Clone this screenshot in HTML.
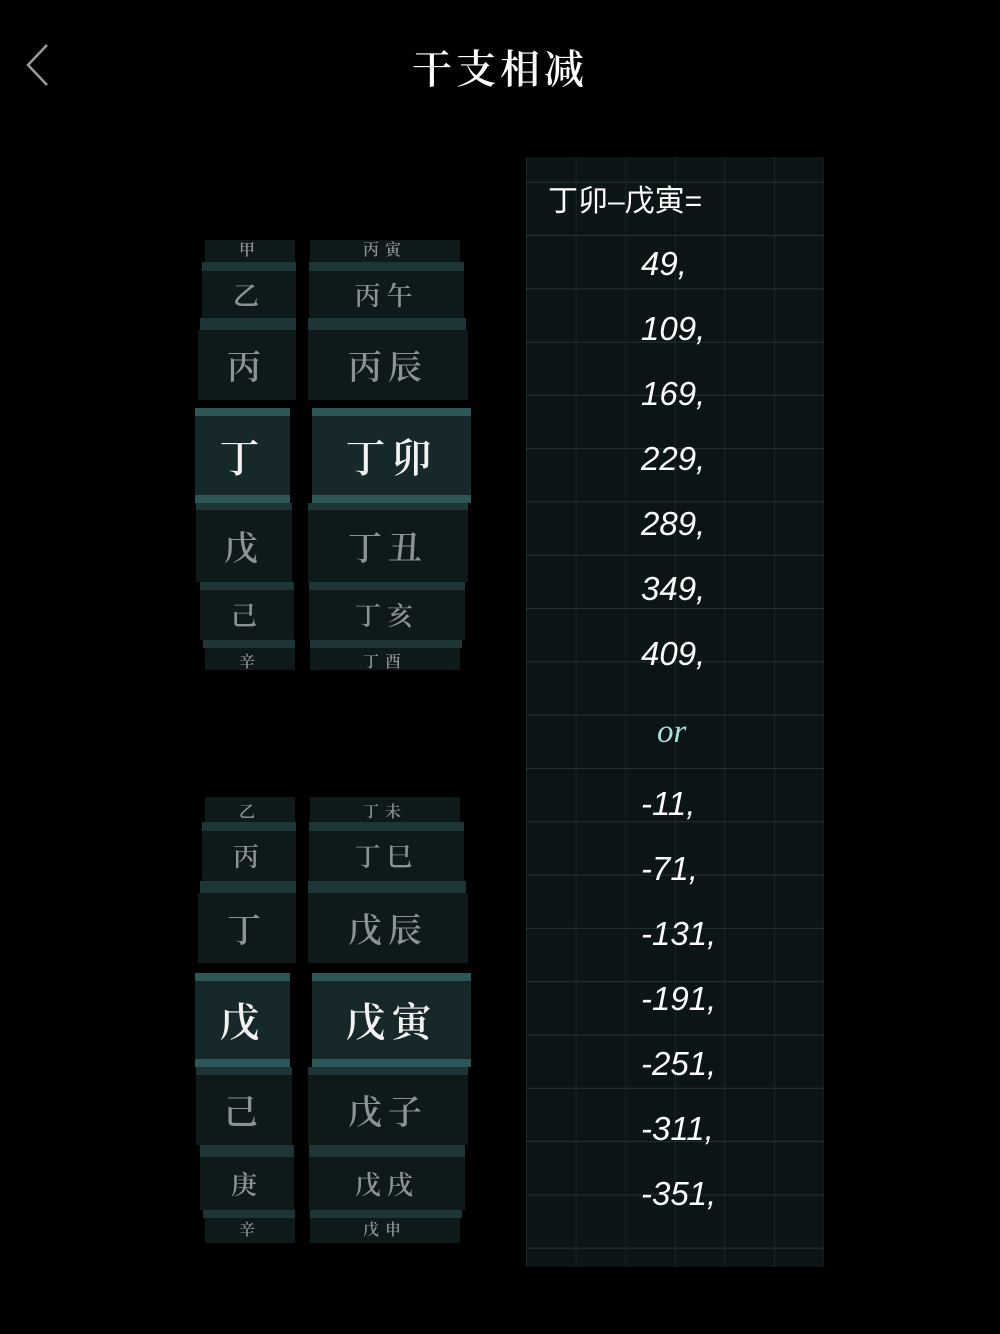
<!DOCTYPE html>
<html><head><meta charset="utf-8"><style>
body{margin:0;width:1000px;height:1334px;background:#000;position:relative;overflow:hidden;font-family:"Liberation Sans","Noto Sans CJK SC",sans-serif}
.a{position:absolute}
.title{left:0;width:1000px;top:38px;text-align:center;color:#fff;font-size:40px;font-family:"Noto Serif CJK SC",serif;letter-spacing:4px;font-weight:600}
.panel{left:526px;top:157px;width:298px;height:1110px;background-color:#0c1516;
background-image:linear-gradient(to bottom,rgba(120,150,150,.22) 1px,transparent 1px),linear-gradient(to right,rgba(120,150,150,.12) 1px,transparent 1px);
background-size:100% 53.3px,49.6px 100%;background-position:0 78px,0 0}
.n{left:641px;color:#fff;font-style:italic;font-size:33px}
.r{background:#0e1919;color:#8b9393;text-align:center;font-family:"Noto Serif CJK SC",serif;overflow:hidden;letter-spacing:6px;font-weight:600}
.b{background:#1d3536}
.s{background:#162829;color:#f2f2f2}
.sb{background:#2d5757}
</style></head><body>
<svg class="a" style="left:0;top:0" width="80" height="110"><polyline points="47,45 28,65 47,85" fill="none" stroke="#9a9a9a" stroke-width="2.5"/></svg>
<div class="a title">干支相减</div>
<div class="a panel"></div>
<div class="a" style="left:548px;top:176px;color:#fff;font-size:30px">丁卯–戊寅=</div>
<div class="a n" style="top:245px">49,</div>
<div class="a n" style="top:310px">109,</div>
<div class="a n" style="top:375px">169,</div>
<div class="a n" style="top:440px">229,</div>
<div class="a n" style="top:505px">289,</div>
<div class="a n" style="top:570px">349,</div>
<div class="a n" style="top:635px">409,</div>
<div class="a" style="top:714px;left:657px;color:#a8e0e0;font-family:'Liberation Serif',serif;font-style:italic;font-size:33px">or</div>
<div class="a n" style="top:785px">-11,</div>
<div class="a n" style="top:850px">-71,</div>
<div class="a n" style="top:915px">-131,</div>
<div class="a n" style="top:980px">-191,</div>
<div class="a n" style="top:1045px">-251,</div>
<div class="a n" style="top:1110px">-311,</div>
<div class="a n" style="top:1175px">-351,</div>

<!-- top wheels -->
<div class="a r" style="left:205px;top:240px;width:90px;height:22px;font-size:16px;line-height:18px">甲</div>
<div class="a r" style="left:310px;top:240px;width:150px;height:22px;font-size:16px;line-height:18px">丙寅</div>
<div class="a b" style="left:202px;top:262px;width:94px;height:9px"></div>
<div class="a b" style="left:309px;top:262px;width:155px;height:9px"></div>
<div class="a r" style="left:202px;top:271px;width:94px;height:47px;font-size:26px;line-height:47px">乙</div>
<div class="a r" style="left:309px;top:271px;width:155px;height:47px;font-size:26px;line-height:47px">丙午</div>
<div class="a b" style="left:200px;top:318px;width:96px;height:12px"></div>
<div class="a b" style="left:308px;top:318px;width:158px;height:12px"></div>
<div class="a r" style="left:198px;top:330px;width:98px;height:70px;font-size:34px;line-height:70px">丙</div>
<div class="a r" style="left:308px;top:330px;width:160px;height:70px;font-size:34px;line-height:70px">丙辰</div>
<div class="a sb" style="left:195px;top:408px;width:95px;height:8px"></div>
<div class="a sb" style="left:312px;top:408px;width:159px;height:8px"></div>
<div class="a r s" style="left:195px;top:416px;width:95px;height:79px;font-size:40px;line-height:79px">丁</div>
<div class="a r s" style="left:312px;top:416px;width:159px;height:79px;font-size:40px;line-height:79px">丁卯</div>
<div class="a sb" style="left:195px;top:495px;width:95px;height:8px"></div>
<div class="a sb" style="left:312px;top:495px;width:159px;height:8px"></div>
<div class="a b" style="left:196px;top:503px;width:96px;height:7px"></div>
<div class="a b" style="left:308px;top:503px;width:160px;height:7px"></div>
<div class="a r" style="left:196px;top:510px;width:96px;height:72px;font-size:34px;line-height:72px">戊</div>
<div class="a r" style="left:308px;top:510px;width:160px;height:72px;font-size:34px;line-height:72px">丁丑</div>
<div class="a b" style="left:200px;top:582px;width:94px;height:8px"></div>
<div class="a b" style="left:309px;top:582px;width:156px;height:8px"></div>
<div class="a r" style="left:200px;top:590px;width:94px;height:50px;font-size:26px;line-height:50px">己</div>
<div class="a r" style="left:309px;top:590px;width:156px;height:50px;font-size:26px;line-height:50px">丁亥</div>
<div class="a b" style="left:203px;top:640px;width:92px;height:8px"></div>
<div class="a b" style="left:310px;top:640px;width:152px;height:8px"></div>
<div class="a r" style="left:205px;top:648px;width:90px;height:22px;font-size:16px;line-height:26px">辛</div>
<div class="a r" style="left:310px;top:648px;width:150px;height:22px;font-size:16px;line-height:26px">丁酉</div>

<!-- bottom wheels -->
<div class="a r" style="left:205px;top:797px;width:90px;height:25px;font-size:16px;line-height:28px">乙</div>
<div class="a r" style="left:310px;top:797px;width:150px;height:25px;font-size:16px;line-height:28px">丁未</div>
<div class="a b" style="left:202px;top:822px;width:94px;height:9px"></div>
<div class="a b" style="left:309px;top:822px;width:155px;height:9px"></div>
<div class="a r" style="left:202px;top:831px;width:94px;height:50px;font-size:26px;line-height:50px">丙</div>
<div class="a r" style="left:309px;top:831px;width:155px;height:50px;font-size:26px;line-height:50px">丁巳</div>
<div class="a b" style="left:200px;top:881px;width:96px;height:12px"></div>
<div class="a b" style="left:308px;top:881px;width:158px;height:12px"></div>
<div class="a r" style="left:198px;top:893px;width:98px;height:70px;font-size:34px;line-height:70px">丁</div>
<div class="a r" style="left:308px;top:893px;width:160px;height:70px;font-size:34px;line-height:70px">戊辰</div>
<div class="a sb" style="left:195px;top:973px;width:95px;height:8px"></div>
<div class="a sb" style="left:312px;top:973px;width:159px;height:8px"></div>
<div class="a r s" style="left:195px;top:981px;width:95px;height:78px;font-size:40px;line-height:78px">戊</div>
<div class="a r s" style="left:312px;top:981px;width:159px;height:78px;font-size:40px;line-height:78px">戊寅</div>
<div class="a sb" style="left:195px;top:1059px;width:95px;height:8px"></div>
<div class="a sb" style="left:312px;top:1059px;width:159px;height:8px"></div>
<div class="a b" style="left:196px;top:1067px;width:96px;height:8px"></div>
<div class="a b" style="left:308px;top:1067px;width:160px;height:8px"></div>
<div class="a r" style="left:196px;top:1075px;width:96px;height:70px;font-size:34px;line-height:70px">己</div>
<div class="a r" style="left:308px;top:1075px;width:160px;height:70px;font-size:34px;line-height:70px">戊子</div>
<div class="a b" style="left:200px;top:1145px;width:94px;height:12px"></div>
<div class="a b" style="left:309px;top:1145px;width:156px;height:12px"></div>
<div class="a r" style="left:200px;top:1157px;width:94px;height:53px;font-size:26px;line-height:53px">庚</div>
<div class="a r" style="left:309px;top:1157px;width:156px;height:53px;font-size:26px;line-height:53px">戊戌</div>
<div class="a b" style="left:203px;top:1210px;width:92px;height:8px"></div>
<div class="a b" style="left:310px;top:1210px;width:152px;height:8px"></div>
<div class="a r" style="left:205px;top:1218px;width:90px;height:25px;font-size:16px;line-height:22px">辛</div>
<div class="a r" style="left:310px;top:1218px;width:150px;height:25px;font-size:16px;line-height:22px">戊申</div>
</body></html>
